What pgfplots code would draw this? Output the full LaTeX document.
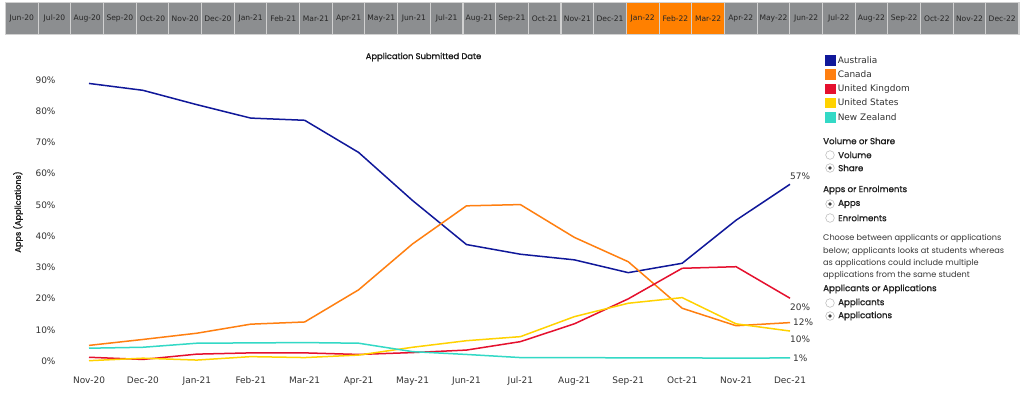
\documentclass[border=0pt]{standalone}
\usepackage{fontspec}
\setmainfont{DejaVu Sans}
\newfontfamily\pop{Poppins}
\newfontfamily\popb[FakeBold=1.2]{Poppins}
\usepackage{pgfplots}
\usepackage{pgfplotstable}
\pgfplotsset{compat=1.18}

\definecolor{cAU}{HTML}{10189A}
\definecolor{cCA}{HTML}{FF7F10}
\definecolor{cUK}{HTML}{E5102E}
\definecolor{cUS}{HTML}{FFD200}
\definecolor{cNZ}{HTML}{33D9C6}
\definecolor{btn}{HTML}{8C8E90}
\definecolor{btnor}{HTML}{FF8000}
\definecolor{txt}{HTML}{333333}

\pgfplotstableread{
x AU CA UK US NZ
0 88.9 5.0 1.2 0.1 4.1
1 86.7 6.9 0.5 0.9 4.4
2 82.1 8.9 2.2 0.3 5.7
3 77.8 11.8 2.6 1.4 5.8
4 77.1 12.5 2.6 1.1 5.9
5 66.8 22.8 2.1 1.9 5.7
6 51.4 37.5 2.7 4.4 3.0
7 37.3 49.7 3.5 6.5 2.1
8 34.2 50.1 6.2 7.8 1.1
9 32.4 39.6 11.9 14.2 1.1
10 28.3 31.8 19.9 18.5 1.0
11 31.3 16.9 29.7 20.3 1.0
12 45.1 11.3 30.2 11.9 0.9
13 56.6 12.3 20.1 9.6 1.0
}\datatable

\newcommand{\radio}[3]{% x y selected
  \draw[black!25, line width=0.6bp, fill=white] (#1,#2) circle (4.3bp);
  \ifnum#3=1 \fill[black!75] (#1,#2) circle (1.8bp);\fi
}

\begin{document}
\begin{tikzpicture}[x=1bp,y=1bp]
\fill[white] (0,0) rectangle (1024,398);
% top month bar
\fill[black!18] (5,363) rectangle (1020,396);
\foreach \lab [count=\i from 0] in {Jun-20,Jul-20,Aug-20,Sep-20,Oct-20,Nov-20,Dec-20,Jan-21,Feb-21,Mar-21,Apr-21,May-21,Jun-21,Jul-21,Aug-21,Sep-21,Oct-21,Nov-21,Dec-21,Jan-22,Feb-22,Mar-22,Apr-22,May-22,Jun-22,Jul-22,Aug-22,Sep-22,Oct-22,Nov-22,Dec-22}{
  \pgfmathsetmacro\xx{6+\i*32.68}
  \ifnum\i>18 \ifnum\i<22 \def\bc{btnor}\else\def\bc{btn}\fi\else\def\bc{btn}\fi
  \fill[\bc] (\xx,364) rectangle (\xx+31.6,395);
  \node[font=\fontsize{7.6}{9}\selectfont, text=black!85, inner sep=0] at (\xx+15.8,379.5) {\lab};
}
\begin{axis}[
  at={(89bp,37bp)}, anchor=south west, scale only axis,
  width=701bp, height=281bp,
  xmin=0, xmax=13, ymin=0, ymax=90, clip=false,
  axis line style={draw=none}, major tick length=0pt,
  xtick={0,...,13},
  xticklabels={Nov-20,Dec-20,Jan-21,Feb-21,Mar-21,Apr-21,May-21,Jun-21,Jul-21,Aug-21,Sep-21,Oct-21,Nov-21,Dec-21},
  ytick={0,10,...,90},
  yticklabel={\pgfmathparse{int(\tick)}\pgfmathresult\%},
  tick label style={font=\fontsize{9}{10}\selectfont, text=txt},
  yticklabel style={xshift=-30bp},
  xticklabel style={yshift=-12bp},
  every axis plot/.append style={line width=1.5bp, sharp plot, no marks},
  legend image code/.code={\fill[#1] (0bp,-4.5bp) rectangle (9bp,4.5bp);},
  legend cell align=left,
  legend style={at={(1.05,1.0961)}, anchor=north west, draw=none, fill=none,
    font=\fontsize{9}{10}\selectfont, text=txt, inner sep=0pt, row sep=0pt,
    nodes={text height=8bp, text depth=2.25bp, inner ysep=2bp}},
]
\addplot[cAU] table[x=x,y=AU]{\datatable};
\addplot[cCA] table[x=x,y=CA]{\datatable};
\addplot[cUK] table[x=x,y=UK]{\datatable};
\addplot[cUS] table[x=x,y=US]{\datatable};
\addplot[cNZ] table[x=x,y=NZ]{\datatable};
\legend{Australia,Canada,United Kingdom,United States,New Zealand}
\begin{scope}[every node/.style={font=\fontsize{9}{10}\selectfont, text=txt, inner sep=0, anchor=west}]
\node[yshift=8bp] at (axis cs:13,56.6) {57\%};
\node[yshift=-9bp] at (axis cs:13,20.1) {20\%};
\node[xshift=3bp] at (axis cs:13,12.3) {12\%};
\node[yshift=-8bp] at (axis cs:13,9.6) {10\%};
\node[xshift=3bp] at (axis cs:13,1.0) {1\%};
\end{scope}
\end{axis}
% titles
\node[font=\popb\fontsize{8.4}{9}\selectfont, text=black!90] at (423.5,341) {Application Submitted Date};
\node[font=\popb\fontsize{8.2}{9}\selectfont, text=black!90, rotate=90] at (18,186) {Apps (Applications)};
% right panel
\begin{scope}[every node/.style={anchor=west, inner sep=0, text=black!88}]
\node[font=\popb\fontsize{8.7}{10}\selectfont] at (823,257) {Volume or Share};
\radio{830}{243}{0}\node[font=\popb\fontsize{8.7}{10}\selectfont] at (838,243) {Volume};
\radio{830}{230}{1}\node[font=\popb\fontsize{8.7}{10}\selectfont] at (838,230) {Share};
\node[font=\popb\fontsize{8.7}{10}\selectfont] at (823,208) {Apps or Enrolments};
\radio{830}{194}{1}\node[font=\popb\fontsize{8.7}{10}\selectfont] at (838,194) {Apps};
\radio{830}{180}{0}\node[font=\popb\fontsize{8.7}{10}\selectfont] at (838,180) {Enrolments};
\node[font=\pop\fontsize{8.2}{9}\selectfont, text=black!78] at (823,160) {Choose between applicants or applications};
\node[font=\pop\fontsize{8.2}{9}\selectfont, text=black!78] at (823,147) {below; applicants looks at students whereas};
\node[font=\pop\fontsize{8.2}{9}\selectfont, text=black!78] at (823,135) {as applications could include multiple};
\node[font=\pop\fontsize{8.2}{9}\selectfont, text=black!78] at (823,123) {applications from the same student};
\node[font=\popb\fontsize{8.7}{10}\selectfont] at (823,109) {Applicants or Applications};
\radio{830}{95}{0}\node[font=\popb\fontsize{8.7}{10}\selectfont] at (838,95) {Applicants};
\radio{830}{82}{1}\node[font=\popb\fontsize{8.7}{10}\selectfont] at (838,82) {Applications};
\end{scope}
\end{tikzpicture}
\end{document}
